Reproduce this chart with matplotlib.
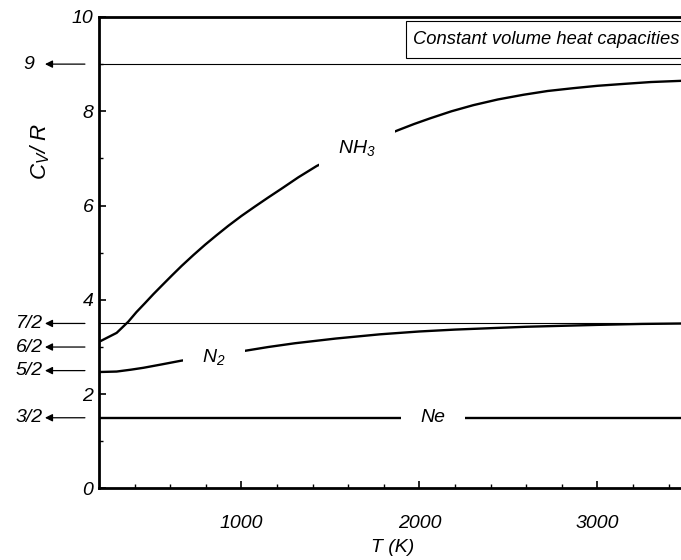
import numpy as np
import matplotlib
matplotlib.use("Agg")
import matplotlib.pyplot as plt
import matplotlib.transforms as mtransforms
from matplotlib.patches import Rectangle

plt.rcParams['font.family'] = ['Liberation Sans', 'DejaVu Sans']
plt.rcParams['font.style'] = 'italic'
plt.rcParams['mathtext.fontset'] = 'custom'
plt.rcParams['mathtext.rm'] = 'Liberation Sans:italic'
plt.rcParams['mathtext.it'] = 'Liberation Sans:italic'
plt.rcParams['mathtext.sf'] = 'Liberation Sans:italic'

# ---- data ----
nh3_T = [200, 299, 365, 410, 458, 505, 552, 610, 664, 730, 796, 860, 926, 1000, 1076, 1150,
         1226, 1320, 1423, 1650, 1881, 1970, 2060, 2180, 2303, 2440, 2584, 2720, 2865, 3000,
         3146, 3300, 3500]
nh3_cv = [3.11, 3.30, 3.54, 3.74, 3.93, 4.12, 4.30, 4.52, 4.72, 4.95, 5.17, 5.37, 5.57, 5.78,
          5.98, 6.17, 6.36, 6.60, 6.84, 7.25, 7.60, 7.73, 7.85, 8.00, 8.13, 8.25, 8.35, 8.43,
          8.49, 8.54, 8.58, 8.62, 8.65]

n2_T = [200, 299, 380, 450, 550, 661, 840, 1020, 1150, 1300, 1530, 1779, 2000, 2200, 2400,
        2600, 2800, 3000, 3250, 3500]
n2_cv = [2.47, 2.48, 2.52, 2.56, 2.63, 2.71, 2.81, 2.92, 3.00, 3.08, 3.18, 3.27, 3.33, 3.37,
         3.40, 3.43, 3.45, 3.47, 3.49, 3.50]

ne_T = [200, 3500]
ne_cv = [1.5, 1.5]

ref_values = [9, 3.5, 3.0, 2.5, 1.5]
ref_labels = ['9', '7/2', '6/2', '5/2', '3/2']
thin_lines = [9, 3.5]

yticks_major = [0, 2, 4, 6, 8, 10]
xticks_major = [1000, 2000, 3000]

species = ['NH$_3$', 'N$_2$', 'Ne']
label_pos = [(1650, 7.22), (845, 2.79), (2075, 1.5)]

# ---- figure ----
fig = plt.figure(figsize=(6.81, 5.60), dpi=100)
ax = fig.add_axes([0.1454, 0.1277, 0.8626, 0.842])
ax.set_xlim(200, 3500)
ax.set_ylim(0, 10)

for yv in thin_lines:
    ax.axhline(yv, color='black', lw=0.8, zorder=1)

ax.plot(nh3_T, nh3_cv, color='black', lw=1.7, zorder=2, solid_capstyle='butt', solid_joinstyle='round')
ax.plot(n2_T, n2_cv, color='black', lw=1.7, zorder=2, solid_capstyle='butt', solid_joinstyle='round')
ax.plot(ne_T, ne_cv, color='black', lw=1.7, zorder=2, solid_capstyle='butt')

for name, (tx, ty) in zip(species, label_pos):
    ax.text(tx, ty, name, fontsize=14, ha='center', va='center', zorder=3,
            bbox=dict(boxstyle='square,pad=1.0', facecolor='white', edgecolor='none'))

# reference arrows on left
trans = mtransforms.blended_transform_factory(ax.transAxes, ax.transData)
for yv, lab in zip(ref_values, ref_labels):
    ax.annotate('', xy=(-0.092, yv), xytext=(-0.024, yv), xycoords=trans, textcoords=trans,
                arrowprops=dict(arrowstyle='-|>', lw=0.9, color='black', mutation_scale=11,
                                shrinkA=0, shrinkB=0), annotation_clip=False)
    ax.text(-0.119, yv, lab, transform=trans, ha='center', va='center', fontsize=14)

# annotation box
ax.add_patch(Rectangle((0.522, 0.914), 0.5, 0.078, transform=ax.transAxes,
                       facecolor='white', edgecolor='black', lw=0.8, zorder=4, clip_on=False))
ax.text(0.534, 0.953, 'Constant volume heat capacities', transform=ax.transAxes,
        ha='left', va='center', fontsize=13.2, zorder=5)

# spines / ticks
for s in ['top', 'left', 'bottom']:
    ax.spines[s].set_linewidth(2.0)
ax.spines['right'].set_visible(False)

ax.set_yticks(yticks_major)
ax.set_yticks([1, 3, 5, 7, 9], minor=True)
ax.set_xticks(xticks_major)
ax.set_xticks(np.arange(400, 3500, 200), minor=True)
ax.tick_params(which='major', direction='in', length=5, width=1.2, labelsize=14)
ax.tick_params(which='minor', direction='in', length=3, width=1.0)
ax.tick_params(axis='y', which='major', pad=4)
ax.tick_params(axis='x', which='major', pad=19)
ax.tick_params(right=False, top=False, which='both')

ax.set_xlabel('T (K)', fontsize=14, labelpad=5)
fig.text(40 / 681, 1 - 152 / 560, '$C_V$/ R', rotation=90, ha='center', va='center', fontsize=16)

fig.savefig('out.png', dpi=100)
